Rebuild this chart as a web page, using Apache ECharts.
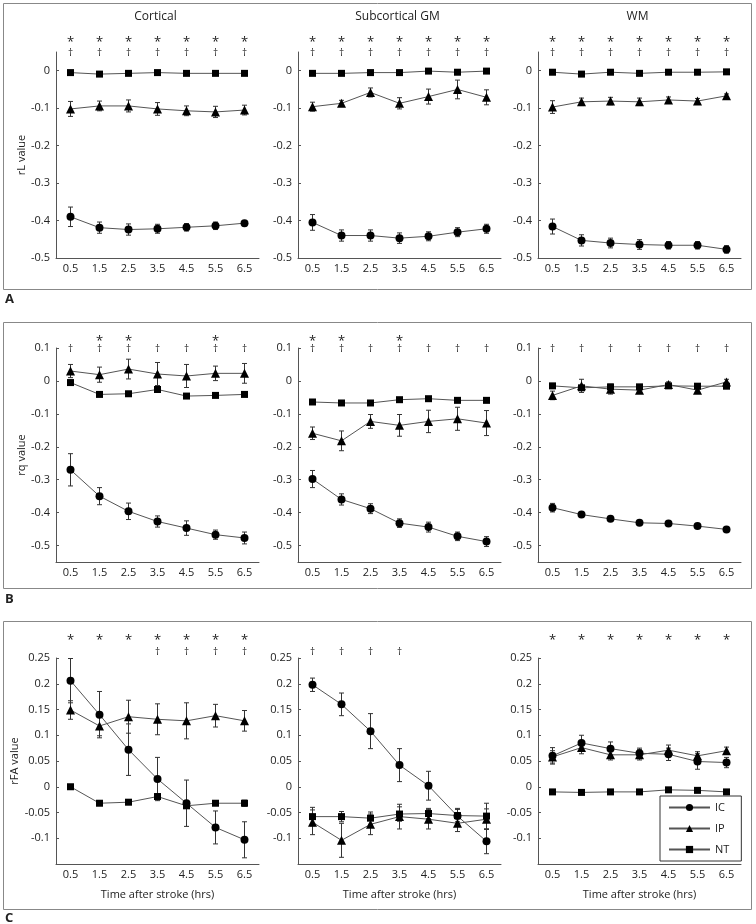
<!DOCTYPE html>
<html><head><meta charset="utf-8">
<script src="https://cdn.jsdelivr.net/npm/echarts@6/dist/echarts.min.js"></script>
<style>html,body{margin:0;padding:0;background:#fff}#c{width:756px;height:924px}</style>
</head><body><div id="c"></div>
<script>
const categories = ['0.5','1.5','2.5','3.5','4.5','5.5','6.5'];
const regions = ['Cortical','Subcortical GM','WM'];
const rowMeasures = ['rL value','rq value','rFA value'];
const panelLetters = ['A','B','C'];
const xAxisTitle = 'Time after stroke (hrs)';
const seriesNames = ['IC','IP','NT'];

// ---- rL (row A) ----
const rL_cort_IC = [-0.390,-0.419,-0.424,-0.422,-0.418,-0.414,-0.407];
const rL_cort_IC_err = [0.026,0.015,0.015,0.012,0.010,0.010,0.007];
const rL_cort_IP = [-0.102,-0.094,-0.094,-0.102,-0.107,-0.110,-0.105];
const rL_cort_IP_err = [0.020,0.013,0.016,0.017,0.013,0.015,0.013];
const rL_cort_NT = [-0.005,-0.009,-0.007,-0.005,-0.007,-0.007,-0.007];
const rL_cort_NT_err = [0.003,0.003,0.003,0.003,0.003,0.003,0.003];

const rL_sub_IC = [-0.405,-0.440,-0.440,-0.447,-0.442,-0.431,-0.422];
const rL_sub_IC_err = [0.021,0.015,0.015,0.014,0.012,0.012,0.012];
const rL_sub_IP = [-0.096,-0.087,-0.058,-0.087,-0.069,-0.050,-0.071];
const rL_sub_IP_err = [0.012,0.008,0.012,0.015,0.020,0.025,0.020];
const rL_sub_NT = [-0.007,-0.007,-0.005,-0.005,-0.001,-0.004,-0.001];
const rL_sub_NT_err = [0.003,0.003,0.003,0.003,0.003,0.003,0.003];

const rL_wm_IC = [-0.416,-0.453,-0.460,-0.464,-0.466,-0.466,-0.477];
const rL_wm_IC_err = [0.020,0.015,0.013,0.013,0.010,0.010,0.010];
const rL_wm_IP = [-0.097,-0.083,-0.081,-0.083,-0.078,-0.081,-0.067];
const rL_wm_IP_err = [0.017,0.010,0.010,0.010,0.008,0.007,0.005];
const rL_wm_NT = [-0.004,-0.009,-0.004,-0.007,-0.004,-0.004,-0.003];
const rL_wm_NT_err = [0.003,0.003,0.003,0.003,0.003,0.003,0.003];

// ---- rq (row B) ----
const rq_cort_IC = [-0.270,-0.350,-0.396,-0.427,-0.447,-0.467,-0.477];
const rq_cort_IC_err = [0.049,0.026,0.025,0.017,0.022,0.014,0.018];
const rq_cort_IP = [0.030,0.019,0.036,0.021,0.015,0.023,0.023];
const rq_cort_IP_err = [0.020,0.023,0.030,0.035,0.035,0.022,0.030];
const rq_cort_NT = [-0.005,-0.041,-0.039,-0.026,-0.046,-0.044,-0.041];
const rq_cort_NT_err = [0.004,0.004,0.004,0.004,0.004,0.004,0.004];

const rq_sub_IC = [-0.298,-0.360,-0.388,-0.432,-0.444,-0.472,-0.488];
const rq_sub_IC_err = [0.026,0.017,0.015,0.013,0.015,0.013,0.015];
const rq_sub_IP = [-0.159,-0.182,-0.123,-0.135,-0.123,-0.115,-0.128];
const rq_sub_IP_err = [0.019,0.030,0.021,0.033,0.034,0.035,0.038];
const rq_sub_NT = [-0.064,-0.067,-0.067,-0.057,-0.054,-0.059,-0.059];
const rq_sub_NT_err = [0.004,0.004,0.004,0.004,0.004,0.004,0.004];

const rq_wm_IC = [-0.385,-0.406,-0.419,-0.431,-0.433,-0.441,-0.451];
const rq_wm_IC_err = [0.013,0.008,0.006,0.006,0.006,0.006,0.006];
const rq_wm_IP = [-0.044,-0.015,-0.025,-0.028,-0.011,-0.028,-0.003];
const rq_wm_IP_err = [0.013,0.020,0.015,0.010,0.008,0.010,0.008];
const rq_wm_NT = [-0.015,-0.021,-0.018,-0.018,-0.015,-0.016,-0.016];
const rq_wm_NT_err = [0.004,0.004,0.004,0.004,0.004,0.004,0.004];

// ---- rFA (row C) ----
const rFA_cort_IC = [0.206,0.140,0.072,0.015,-0.032,-0.079,-0.103];
const rFA_cort_IC_err = [0.043,0.045,0.050,0.042,0.045,0.032,0.035];
const rFA_cort_IP = [0.149,0.118,0.136,0.131,0.128,0.138,0.128];
const rFA_cort_IP_err = [0.018,0.019,0.032,0.030,0.035,0.022,0.020];
const rFA_cort_NT = [0.000,-0.032,-0.030,-0.019,-0.037,-0.032,-0.032];
const rFA_cort_NT_err = [0.002,0.003,0.003,0.005,0.004,0.003,0.006];

const rFA_sub_IC = [0.198,0.160,0.108,0.042,0.002,-0.057,-0.106];
const rFA_sub_IC_err = [0.013,0.022,0.034,0.032,0.028,0.015,0.024];
const rFA_sub_IP = [-0.069,-0.104,-0.073,-0.058,-0.063,-0.071,-0.063];
const rFA_sub_IP_err = [0.024,0.033,0.020,0.024,0.019,0.016,0.020];
const rFA_sub_NT = [-0.058,-0.058,-0.061,-0.053,-0.052,-0.056,-0.057];
const rFA_sub_NT_err = [0.018,0.010,0.012,0.014,0.010,0.012,0.025];

const rFA_wm_IC = [0.060,0.085,0.074,0.065,0.063,0.049,0.047];
const rFA_wm_IC_err = [0.016,0.015,0.013,0.010,0.012,0.015,0.010];
const rFA_wm_IP = [0.058,0.076,0.062,0.062,0.071,0.060,0.070];
const rFA_wm_IP_err = [0.012,0.012,0.010,0.010,0.010,0.008,0.007];
const rFA_wm_NT = [-0.010,-0.011,-0.010,-0.010,-0.006,-0.007,-0.010];
const rFA_wm_NT_err = [0.003,0.003,0.003,0.003,0.003,0.003,0.003];

// ---- significance markers (1 = shown) ----
const rL_cort_star = [1,1,1,1,1,1,1], rL_cort_dagger = [1,1,1,1,1,1,1];
const rL_sub_star = [1,1,1,1,1,1,1],  rL_sub_dagger = [1,1,1,1,1,1,1];
const rL_wm_star = [1,1,1,1,1,1,1],   rL_wm_dagger = [1,1,1,1,1,1,1];
const rq_cort_star = [0,1,1,0,0,1,0], rq_cort_dagger = [1,1,1,1,1,1,1];
const rq_sub_star = [1,1,0,1,0,0,0],  rq_sub_dagger = [1,1,1,1,1,1,1];
const rq_wm_star = [0,0,0,0,0,0,0],   rq_wm_dagger = [1,1,1,1,1,1,1];
const rFA_cort_star = [1,1,1,1,1,1,1], rFA_cort_dagger = [0,0,0,1,1,1,1];
const rFA_sub_star = [0,0,0,0,0,0,0],  rFA_sub_dagger = [1,1,1,1,0,0,0];
const rFA_wm_star = [1,1,1,1,1,1,1],   rFA_wm_dagger = [0,0,0,0,0,0,0];

// y-axis ranges per row
const yMin = [-0.5, -0.55, -0.15];
const yMax = [0.05, 0.1, 0.25];
const yStep = [0.1, 0.1, 0.05];

const panels = [
  [rL_cort_IC,rL_cort_IC_err,rL_cort_IP,rL_cort_IP_err,rL_cort_NT,rL_cort_NT_err,rL_cort_star,rL_cort_dagger],
  [rL_sub_IC,rL_sub_IC_err,rL_sub_IP,rL_sub_IP_err,rL_sub_NT,rL_sub_NT_err,rL_sub_star,rL_sub_dagger],
  [rL_wm_IC,rL_wm_IC_err,rL_wm_IP,rL_wm_IP_err,rL_wm_NT,rL_wm_NT_err,rL_wm_star,rL_wm_dagger],
  [rq_cort_IC,rq_cort_IC_err,rq_cort_IP,rq_cort_IP_err,rq_cort_NT,rq_cort_NT_err,rq_cort_star,rq_cort_dagger],
  [rq_sub_IC,rq_sub_IC_err,rq_sub_IP,rq_sub_IP_err,rq_sub_NT,rq_sub_NT_err,rq_sub_star,rq_sub_dagger],
  [rq_wm_IC,rq_wm_IC_err,rq_wm_IP,rq_wm_IP_err,rq_wm_NT,rq_wm_NT_err,rq_wm_star,rq_wm_dagger],
  [rFA_cort_IC,rFA_cort_IC_err,rFA_cort_IP,rFA_cort_IP_err,rFA_cort_NT,rFA_cort_NT_err,rFA_cort_star,rFA_cort_dagger],
  [rFA_sub_IC,rFA_sub_IC_err,rFA_sub_IP,rFA_sub_IP_err,rFA_sub_NT,rFA_sub_NT_err,rFA_sub_star,rFA_sub_dagger],
  [rFA_wm_IC,rFA_wm_IC_err,rFA_wm_IP,rFA_wm_IP_err,rFA_wm_NT,rFA_wm_NT_err,rFA_wm_star,rFA_wm_dagger]
];

// ---- layout (styling) ----
const FONT = '"Open Sans","Noto Sans",sans-serif';
const colLeft = [56, 298, 538];
const gridW = 203;
const rowTop = [52, 348, 658];
const rowH = [206, 214, 206];
const starOff = [-10, -7, -18];
const daggerOff = [1, 1, -6];
const symbols = ['circle','triangle','rect'];
const symSizes = [8, 9, 7];

const grids = [], xAxes = [], yAxes = [], series = [];
for (let r = 0; r < 3; r++) {
  for (let c = 0; c < 3; c++) {
    const g = r * 3 + c;
    grids.push({left: colLeft[c], top: rowTop[r], width: gridW, height: rowH[r]});
    xAxes.push({
      type: 'category', gridIndex: g, data: categories, boundaryGap: true,
      axisLine: {onZero: false, lineStyle: {color: '#555', width: 1}},
      axisTick: {alignWithLabel: true, inside: true, length: 3, lineStyle: {color: '#555'}},
      axisLabel: {color: '#222', fontSize: 11, fontFamily: FONT, margin: 5},
      splitLine: {show: false},
      name: r === 2 ? xAxisTitle : '', nameLocation: 'middle', nameGap: 25,
      nameTextStyle: {color: '#222', fontSize: 11, fontFamily: FONT}
    });
    yAxes.push({
      type: 'value', gridIndex: g, min: yMin[r], max: yMax[r],
      minInterval: yStep[r], maxInterval: yStep[r], splitNumber: 6,
      splitLine: {show: false},
      axisLine: {show: true, onZero: false, lineStyle: {color: '#555', width: 1}},
      axisTick: {show: true, inside: true, length: 3, lineStyle: {color: '#555'}},
      axisLabel: {color: '#222', fontSize: 11, fontFamily: FONT, margin: 6,
        showMaxLabel: r !== 0, showMinLabel: r === 0},
      name: c === 0 ? rowMeasures[r] : '', nameLocation: 'middle', nameGap: 23,
      nameTextStyle: {color: '#222', fontSize: 11, fontFamily: FONT}
    });
    const p = panels[g];
    for (let s = 0; s < 3; s++) {
      const means = p[s * 2], errs = p[s * 2 + 1];
      series.push({
        type: 'custom', name: 'err' + g + '_' + s, xAxisIndex: g, yAxisIndex: g, z: 2,
        data: means.map((m, i) => [i, m - errs[i], m + errs[i]]),
        encode: {x: 0, y: [1, 2]},
        renderItem: function (params, api) {
          const i = api.value(0);
          const lo = api.coord([i, api.value(1)]);
          const hi = api.coord([i, api.value(2)]);
          const w = 2.5;
          const st = {stroke: '#333', lineWidth: 1};
          return {type: 'group', children: [
            {type: 'line', shape: {x1: lo[0], y1: lo[1], x2: hi[0], y2: hi[1]}, style: st},
            {type: 'line', shape: {x1: lo[0] - w, y1: lo[1], x2: lo[0] + w, y2: lo[1]}, style: st},
            {type: 'line', shape: {x1: hi[0] - w, y1: hi[1], x2: hi[0] + w, y2: hi[1]}, style: st}
          ]};
        },
        silent: true
      });
      series.push({
        type: 'line', name: seriesNames[s], xAxisIndex: g, yAxisIndex: g, z: 3,
        data: means, symbol: symbols[s], symbolSize: symSizes[s], showAllSymbol: true,
        lineStyle: {color: '#555', width: 1}, itemStyle: {color: '#000'},
        emphasis: {disabled: true}, animation: false
      });
    }
    // significance annotation rows
    const marks = [[p[6], '*', starOff[r], 13], [p[7], '\u2020', daggerOff[r], 10]];
    marks.forEach(([flags, ch, off, fs], k) => {
      const top = yMax[r];
      series.push({
        type: 'custom', name: 'sig' + g + '_' + k, xAxisIndex: g, yAxisIndex: g, z: 4, clip: false,
        data: flags.map((f, i) => [i, f]),
        encode: {x: 0, y: 1},
        renderItem: function (params, api) {
          if (!api.value(1)) return null;
          const pt = api.coord([api.value(0), top]);
          return {type: 'text', x: pt[0], y: pt[1] + off,
            style: {text: ch, fill: '#222', font: fs + 'px ' + FONT, align: 'center', verticalAlign: 'middle'}};
        },
        silent: true
      });
    });
  }
}

const graphics = [];
const boxes = [[3, 289], [322, 588], [621, 909]];
const letterY = [299, 599, 918];
boxes.forEach((b, i) => {
  graphics.push({type: 'rect', shape: {x: 3.5, y: b[0] + 0.5, width: 748, height: b[1] - b[0]},
    style: {fill: 'none', stroke: '#888', lineWidth: 1}, silent: true, z: -1});
  graphics.push({type: 'text', x: 5, y: letterY[i],
    style: {text: panelLetters[i], fill: '#222', font: 'bold 13px ' + FONT, align: 'left', verticalAlign: 'middle'}});
});
regions.forEach((t, c) => {
  graphics.push({type: 'text', x: colLeft[c] + gridW / 2 - 2, y: 17,
    style: {text: t, fill: '#222', font: '12px ' + FONT, align: 'center', verticalAlign: 'middle'}});
});

const chart = echarts.init(document.getElementById('c'), null, {renderer: 'canvas'});
chart.setOption({
  animation: false,
  backgroundColor: '#fff',
  textStyle: {fontFamily: FONT},
  grid: grids, xAxis: xAxes, yAxis: yAxes, series: series,
  graphic: graphics,
  legend: {
    data: seriesNames, orient: 'vertical', left: 660, top: 796,
    itemWidth: 41, itemHeight: 9, itemGap: 10,
    padding: [6, 12, 6, 8], borderColor: '#333', borderWidth: 1, backgroundColor: '#fff',
    textStyle: {color: '#222', fontSize: 11, fontFamily: FONT},
    selectedMode: false
  }
});
</script>
</body></html>
